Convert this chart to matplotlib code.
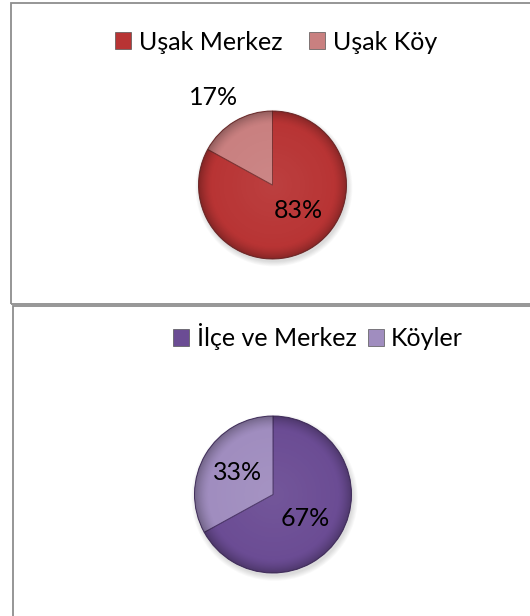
import matplotlib
matplotlib.use("Agg")
import matplotlib.pyplot as plt
from matplotlib.patches import Rectangle, Patch, Circle
import numpy as np

plt.rcParams['font.family'] = ['Lato', 'DejaVu Sans']

# Data
top_labels = ["Uşak Merkez", "Uşak Köy"]
top_values = [83, 17]
top_colors = ["#B83434", "#C98080"]

bot_labels = ["İlçe ve Merkez", "Köyler"]
bot_values = [67, 33]
bot_colors = ["#6B4C94", "#A08DBF"]

W, H = 530, 616
fig = plt.figure(figsize=(W / 100, H / 100), dpi=100)

def fx(px):
    return px / W

def fy(py):
    return 1 - py / H

# Panel borders
for (x0, y0, x1, y1) in [(11, 3, 540, 304), (12.5, 306, 540, 630)]:
    fig.patches.append(Rectangle((fx(x0), fy(y1)), fx(x1 - x0), (y1 - y0) / H,
                                 transform=fig.transFigure, fill=False,
                                 edgecolor="#8E8E8E", linewidth=1.3))

# radial shading image for a bevel look
g = np.linspace(-1.05, 1.05, 400)
X, Y = np.meshgrid(g, g)
R = np.hypot(X, Y)
dark = np.clip((R - 0.82) / 0.18, 0, 1) ** 1.5 * 0.28
light = np.clip(1 - R / 0.9, 0, 1) * 0.06
shade = np.zeros((400, 400, 4))
shade[..., 3] = dark
light_img = np.ones((400, 400, 4))
light_img[..., 3] = light

def draw_pie(cx, cy, r, values, colors, label_pos, edge):
    half = r * 1.25
    ax = fig.add_axes([fx(cx - half), fy(cy + half), 2 * half / W, 2 * half / H])
    # soft shadow
    for k in range(6):
        ax.add_patch(Circle((0.02, -0.04), 1.0 + 0.012 * k, color="black",
                            alpha=0.025, lw=0, zorder=0))
    wedges, texts, autotexts = ax.pie(values, colors=colors, startangle=90,
                                      counterclock=False, autopct='%1.0f%%',
                                      wedgeprops=dict(edgecolor=edge, linewidth=0.7),
                                      textprops=dict(fontsize=18, color="black"))
    for w in wedges:
        w.set_zorder(1)
        for img in (shade, light_img):
            im = ax.imshow(img, extent=(-1.05, 1.05, -1.05, 1.05), origin='lower',
                           zorder=2, interpolation='bilinear')
            im.set_clip_path(w)
    for t, (px, py) in zip(autotexts, label_pos):
        t.set_position((px, py))
        t.set_ha('center')
        t.set_va('center')
        t.set_zorder(5)
    ax.set_xlim(-1.25, 1.25)
    ax.set_ylim(-1.25, 1.25)
    ax.set_aspect('equal')
    ax.axis('off')
    return ax

draw_pie(272.5, 185, 74, top_values, top_colors, [(0.345, -0.338), (-0.80, 1.18)], "#7a3030")
draw_pie(273, 494.5, 78.5, bot_values, bot_colors, [(0.408, -0.312), (-0.452, 0.274)], "#4a3468")

def legend(labels, colors, cx, cy, colspace):
    handles = [Patch(facecolor=c, edgecolor="#555555", linewidth=0.5) for c in colors]
    fig.legend(handles, labels, loc='center', bbox_to_anchor=(fx(cx), fy(cy)),
               ncol=2, frameon=False, fontsize=18, handlelength=0.64,
               handleheight=0.64, handletextpad=0.3, columnspacing=colspace,
               borderpad=0, borderaxespad=0)

legend(top_labels, top_colors, 276, 42, 1.08)
legend(bot_labels, bot_colors, 318, 337, 0.45)

fig.savefig("out.png", dpi=100)
